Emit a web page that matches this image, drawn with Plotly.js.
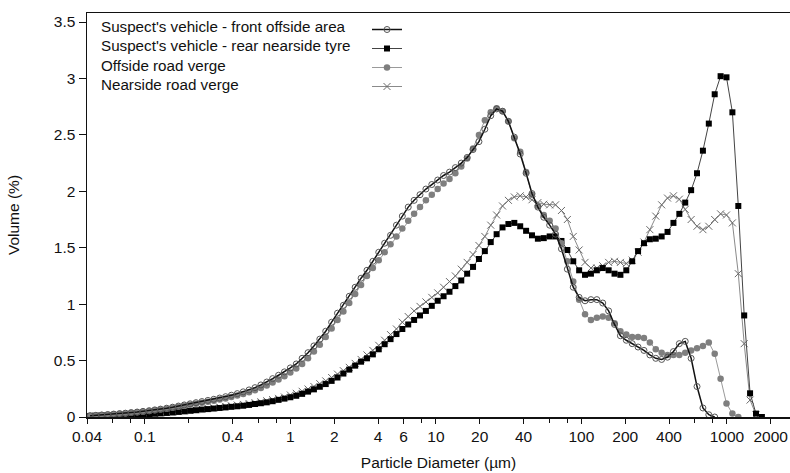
<!DOCTYPE html>
<html>
<head>
<meta charset="utf-8">
<script src="https://cdn.plot.ly/plotly-3.0.1.min.js"></script>
<style>
  html, body { margin: 0; padding: 0; background: #fff; }
  #chart { width: 790px; height: 473px; }
</style>
</head>
<body>
<div id="chart"></div>
<script>
// Particle diameter (µm), channel centres
const diameters = [
  0.042, 0.046, 0.0505, 0.0555, 0.061, 0.067, 0.0735, 0.0805, 0.0885, 0.097,
  0.107, 0.117, 0.128, 0.141, 0.155, 0.17, 0.1865, 0.2045, 0.2245, 0.2465,
  0.271, 0.2975, 0.3265, 0.3585, 0.393, 0.4315, 0.474, 0.52, 0.571, 0.627,
  0.688, 0.755, 0.829, 0.91, 0.999, 1.097, 1.204, 1.322, 1.451, 1.593,
  1.749, 1.92, 2.107, 2.313, 2.539, 2.787, 3.06, 3.359, 3.687, 4.048,
  4.444, 4.878, 5.355, 5.879, 6.453, 7.084, 7.776, 8.537, 9.371, 10.29,
  11.29, 12.40, 13.61, 14.94, 16.40, 18.00, 19.76, 21.70, 23.82, 26.14,
  28.70, 31.50, 34.59, 37.97, 41.68, 45.75, 50.23, 55.14, 60.53, 66.44,
  72.94, 80.07, 87.89, 96.49, 105.9, 116.3, 127.7, 140.2, 153.9, 168.9,
  185.4, 203.5, 223.4, 245.2, 269.2, 295.5, 324.4, 356.1, 390.9, 429.2,
  471.1, 517.2, 567.8, 623.3, 684.2, 751.1, 824.5, 905.1, 993.6, 1091,
  1198, 1315, 1443, 1585, 1740, 1910
];

// Volume (%)
const frontOffside = [
  0.012, 0.015, 0.018, 0.022, 0.026, 0.030, 0.034, 0.039, 0.044, 0.050,
  0.056, 0.063, 0.070, 0.078, 0.087, 0.097, 0.107, 0.117, 0.127, 0.137,
  0.147, 0.157, 0.168, 0.180, 0.193, 0.207, 0.223, 0.240, 0.260, 0.284,
  0.310, 0.340, 0.370, 0.400, 0.435, 0.470, 0.520, 0.570, 0.630, 0.690,
  0.760, 0.840, 0.920, 0.990, 1.070, 1.150, 1.230, 1.300, 1.380, 1.460,
  1.540, 1.610, 1.700, 1.780, 1.860, 1.920, 1.970, 2.020, 2.060, 2.100,
  2.140, 2.170, 2.210, 2.250, 2.300, 2.370, 2.440, 2.550, 2.670, 2.730,
  2.710, 2.620, 2.480, 2.330, 2.160, 1.980, 1.860, 1.770, 1.700, 1.620,
  1.490, 1.310, 1.150, 1.060, 1.030, 1.040, 1.040, 1.010, 0.940, 0.820,
  0.720, 0.680, 0.650, 0.620, 0.590, 0.550, 0.520, 0.510, 0.530, 0.580,
  0.650, 0.670, 0.520, 0.270, 0.080, 0.020, 0, null, null, null,
  null, null, null, null, null, null
];

const rearNearside = [
  0.008, 0.009, 0.010, 0.012, 0.013, 0.015, 0.017, 0.019, 0.021, 0.023,
  0.026, 0.029, 0.032, 0.036, 0.040, 0.045, 0.050, 0.055, 0.060, 0.066,
  0.070, 0.075, 0.080, 0.085, 0.090, 0.095, 0.100, 0.107, 0.115, 0.122,
  0.130, 0.140, 0.152, 0.163, 0.175, 0.188, 0.205, 0.225, 0.245, 0.268,
  0.292, 0.320, 0.350, 0.385, 0.420, 0.455, 0.490, 0.520, 0.555, 0.600,
  0.645, 0.690, 0.735, 0.780, 0.820, 0.860, 0.900, 0.940, 0.985, 1.030,
  1.070, 1.110, 1.160, 1.210, 1.270, 1.330, 1.400, 1.470, 1.550, 1.620,
  1.680, 1.710, 1.720, 1.690, 1.650, 1.610, 1.580, 1.585, 1.600, 1.600,
  1.560, 1.480, 1.380, 1.300, 1.260, 1.270, 1.300, 1.320, 1.300, 1.270,
  1.260, 1.300, 1.380, 1.470, 1.540, 1.575, 1.580, 1.600, 1.640, 1.720,
  1.800, 1.900, 2.010, 2.160, 2.360, 2.600, 2.860, 3.020, 3.010, 2.700,
  1.870, 0.900, 0.210, 0.030, 0, null
];

const offsideVerge = [
  0.012, 0.014, 0.017, 0.020, 0.024, 0.028, 0.032, 0.037, 0.042, 0.047,
  0.053, 0.059, 0.066, 0.073, 0.081, 0.090, 0.099, 0.108, 0.117, 0.126,
  0.135, 0.144, 0.154, 0.165, 0.177, 0.190, 0.204, 0.220, 0.238, 0.258,
  0.280, 0.305, 0.332, 0.362, 0.395, 0.430, 0.470, 0.520, 0.580, 0.640,
  0.710, 0.785, 0.860, 0.935, 1.010, 1.090, 1.170, 1.250, 1.320, 1.390,
  1.460, 1.530, 1.600, 1.670, 1.740, 1.800, 1.860, 1.920, 1.970, 2.020,
  2.070, 2.110, 2.160, 2.220, 2.290, 2.380, 2.500, 2.630, 2.700, 2.735,
  2.710, 2.620, 2.470, 2.350, 2.170, 1.970, 1.870, 1.790, 1.740, 1.670,
  1.540, 1.380, 1.200, 1.040, 0.910, 0.860, 0.880, 0.890, 0.880, 0.830,
  0.760, 0.730, 0.710, 0.710, 0.700, 0.660, 0.600, 0.570, 0.550, 0.550,
  0.550, 0.570, 0.590, 0.610, 0.630, 0.660, 0.560, 0.340, 0.120, 0.030,
  0, null, null, null, null, null
];

const nearsideVerge = [
  0.009, 0.010, 0.011, 0.013, 0.014, 0.016, 0.018, 0.020, 0.023, 0.025,
  0.028, 0.031, 0.035, 0.039, 0.043, 0.048, 0.053, 0.058, 0.064, 0.070,
  0.076, 0.082, 0.088, 0.094, 0.100, 0.106, 0.112, 0.119, 0.127, 0.135,
  0.144, 0.154, 0.165, 0.177, 0.195, 0.210, 0.228, 0.248, 0.270, 0.295,
  0.320, 0.350, 0.380, 0.410, 0.440, 0.475, 0.510, 0.550, 0.590, 0.635,
  0.680, 0.730, 0.780, 0.840, 0.890, 0.940, 0.980, 1.020, 1.060, 1.100,
  1.150, 1.200, 1.250, 1.310, 1.370, 1.440, 1.520, 1.600, 1.700, 1.790,
  1.870, 1.920, 1.950, 1.960, 1.950, 1.925, 1.900, 1.885, 1.880, 1.880,
  1.830, 1.750, 1.600, 1.480, 1.370, 1.320, 1.320, 1.340, 1.370, 1.380,
  1.370, 1.360, 1.390, 1.460, 1.550, 1.660, 1.780, 1.880, 1.940, 1.960,
  1.930, 1.840, 1.750, 1.690, 1.660, 1.690, 1.750, 1.800, 1.790, 1.720,
  1.270, 0.650, 0.150, 0.020, null, null
];

const seriesNames = [
  "Suspect's vehicle - front offside area",
  "Suspect's vehicle - rear nearside tyre",
  "Offside road verge",
  "Nearside road verge"
];

const xTickVals = [0.04, 0.1, 0.4, 1, 2, 4, 6, 10, 20, 40, 100, 200, 400, 1000, 2000];
const xTickText = ['0.04', '0.1', '0.4', '1', '2', '4', '6', '10', '20', '40', '100', '200', '400', '1000', '2000'];
const xMinorVals = [0.06, 0.08, 0.2, 0.6, 0.8, 8, 60, 80, 600, 800];
const yTickVals = [0, 0.5, 1, 1.5, 2, 2.5, 3, 3.5];
const yTickText = ['0', '0.5', '1', '1.5', '2', '2.5', '3', '3.5'];

const FONT = 'Liberation Sans, Arial, Helvetica, sans-serif';

const traces = [
  {
    x: diameters, y: nearsideVerge, name: seriesNames[3], legendrank: 4,
    type: 'scatter', mode: 'lines+markers',
    line: { color: '#8a8a8a', width: 1 },
    marker: { symbol: 'x-thin-open', size: 7, color: '#6a6a6a', line: { width: 1, color: '#6a6a6a' } }
  },
  {
    x: diameters, y: rearNearside, name: seriesNames[1], legendrank: 2,
    type: 'scatter', mode: 'lines+markers',
    line: { color: '#444444', width: 1 },
    marker: { symbol: 'square', size: 6, color: '#000000' }
  },
  {
    x: diameters, y: offsideVerge, name: seriesNames[2], legendrank: 3,
    type: 'scatter', mode: 'lines+markers',
    line: { color: '#9a9a9a', width: 1 },
    marker: { symbol: 'circle', size: 6.5, color: '#7f7f7f' }
  },
  {
    x: diameters, y: frontOffside, name: seriesNames[0], legendrank: 1,
    type: 'scatter', mode: 'lines+markers',
    line: { color: '#111111', width: 1.5 },
    marker: { symbol: 'circle-open', size: 6, color: '#555555', line: { width: 1 } }
  }
];

// plot area: left 87, right 790, top 13, bottom 417
const plotTop = 13, plotBottom = 417;
const legendRowsY = [26, 45.5, 65, 84.5];
const annotations = seriesNames.map((t, i) => ({
  xref: 'paper', yref: 'paper',
  x: (99 - 87) / 703, y: (plotBottom - legendRowsY[i]) / (plotBottom - plotTop),
  xanchor: 'left', yanchor: 'middle',
  text: t, showarrow: false,
  font: { family: FONT, size: 15.2, color: '#111111' }
}));

const layout = {
  width: 790, height: 473,
  margin: { l: 87, r: 0, t: 13, b: 56, pad: 0 },
  paper_bgcolor: '#ffffff', plot_bgcolor: '#ffffff',
  font: { family: FONT, size: 15.5, color: '#111111' },
  showlegend: true,
  legend: {
    x: (367 - 87) / 703, xanchor: 'left',
    y: 1 - 2 / 404, yanchor: 'top',
    bgcolor: 'rgba(0,0,0,0)', borderwidth: 0,
    font: { family: FONT, size: 12, color: 'rgba(0,0,0,0)' },
    tracegroupgap: 0, itemwidth: 30
  },
  annotations: annotations,
  xaxis: {
    type: 'log',
    range: [Math.log10(0.04), 3.4337],
    tickmode: 'array', tickvals: xTickVals, ticktext: xTickText,
    ticks: 'outside', ticklen: 5, tickwidth: 1, tickcolor: '#111',
    minor: { tickmode: 'array', tickvals: xMinorVals, ticks: 'outside', ticklen: 4, tickwidth: 1, tickcolor: '#111', showgrid: false },
    showline: true, linecolor: '#111', linewidth: 1.5, mirror: true,
    showgrid: false, zeroline: false,
    tickfont: { family: FONT, size: 15.5, color: '#111' },
    title: { text: 'Particle Diameter (µm)', font: { family: FONT, size: 15.5, color: '#111' }, standoff: 13 },
    automargin: false
  },
  yaxis: {
    range: [0, 3.58],
    tickmode: 'array', tickvals: yTickVals, ticktext: yTickText,
    ticks: 'outside', ticklen: 7, tickwidth: 1, tickcolor: '#111',
    showline: true, linecolor: '#111', linewidth: 1.5, mirror: false,
    showgrid: false, zeroline: false,
    tickfont: { family: FONT, size: 15.5, color: '#111' },
    title: { text: 'Volume (%)', font: { family: FONT, size: 15.5, color: '#111' }, standoff: 30 },
    automargin: false
  }
};

Plotly.newPlot('chart', traces, layout, { displayModeBar: false, staticPlot: true });
</script>
</body>
</html>
